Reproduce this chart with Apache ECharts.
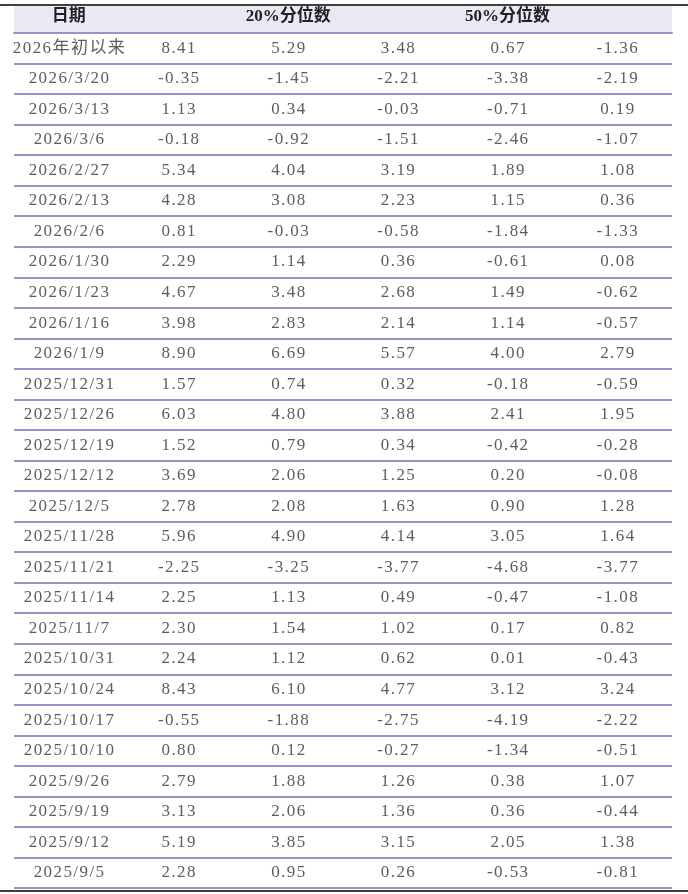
<!DOCTYPE html>
<html lang="zh">
<head>
<meta charset="UTF-8">
<script src="https://cdn.jsdelivr.net/npm/echarts@6/dist/echarts.min.js"></script>
<style>html,body{margin:0;background:#fff}</style>
</head>
<body>
<div id="main" style="width:688px;height:894px;"></div>
<script>
var headers = ['日期', '10%分位数', '20%分位数', '30%分位数', '50%分位数', '沪深300'];
var dates = ['2026年初以来','2026/3/20','2026/3/13','2026/3/6','2026/2/27','2026/2/13','2026/2/6','2026/1/30','2026/1/23','2026/1/16','2026/1/9','2025/12/31','2025/12/26','2025/12/19','2025/12/12','2025/12/5','2025/11/28','2025/11/21','2025/11/14','2025/11/7','2025/10/31','2025/10/24','2025/10/17','2025/10/10','2025/9/26','2025/9/19','2025/9/12','2025/9/5'];
var p10 = [8.41,-0.35,1.13,-0.18,5.34,4.28,0.81,2.29,4.67,3.98,8.90,1.57,6.03,1.52,3.69,2.78,5.96,-2.25,2.25,2.30,2.24,8.43,-0.55,0.80,2.79,3.13,5.19,2.28];
var p20 = [5.29,-1.45,0.34,-0.92,4.04,3.08,-0.03,1.14,3.48,2.83,6.69,0.74,4.80,0.79,2.06,2.08,4.90,-3.25,1.13,1.54,1.12,6.10,-1.88,0.12,1.88,2.06,3.85,0.95];
var p30 = [3.48,-2.21,-0.03,-1.51,3.19,2.23,-0.58,0.36,2.68,2.14,5.57,0.32,3.88,0.34,1.25,1.63,4.14,-3.77,0.49,1.02,0.62,4.77,-2.75,-0.27,1.26,1.36,3.15,0.26];
var p50 = [0.67,-3.38,-0.71,-2.46,1.89,1.15,-1.84,-0.61,1.49,1.14,4.00,-0.18,2.41,-0.42,0.20,0.90,3.05,-4.68,-0.47,0.17,0.01,3.12,-4.19,-1.34,0.38,0.36,2.05,-0.53];
var hs300 = [-1.36,-2.19,0.19,-1.07,1.08,0.36,-1.33,0.08,-0.62,-0.57,2.79,-0.59,1.95,-0.28,-0.08,1.28,1.64,-3.77,-1.08,0.82,-0.43,3.24,-2.22,-0.51,1.07,-0.44,1.38,-0.81];

var cols = [dates, p10, p20, p30, p50, hs300];
var data = [];
cols.forEach(function (col, c) {
    col.forEach(function (v, r) {
        data.push({value: [c, r], text: c === 0 ? v : v.toFixed(2)});
    });
});
var rows = dates.map(function (d, i) { return i; });

var chart = echarts.init(document.getElementById('main'));
chart.setOption({
    animation: false,
    grid: {left: 14, right: 16, top: 33, bottom: 6},
    graphic: [
        {type: 'rect', shape: {x: 14, y: 6, width: 658, height: 27}, style: {fill: '#ebe8f4'}, z: -1},
        {type: 'line', shape: {x1: 0, y1: 5, x2: 688, y2: 5}, style: {stroke: '#000', lineWidth: 1.5}},
        {type: 'line', shape: {x1: 0, y1: 891, x2: 688, y2: 891}, style: {stroke: '#000', lineWidth: 1.5}}
    ],
    xAxis: {
        type: 'category', position: 'top', data: headers,
        axisLine: {show: true, lineStyle: {color: '#9d92c8', width: 2}},
        axisTick: {show: false},
        axisLabel: {margin: 8, color: '#222', fontWeight: 'bold', fontSize: 17,
            fontFamily: 'Liberation Serif, Noto Sans CJK SC'}
    },
    yAxis: {
        type: 'category', inverse: true, data: rows,
        axisLine: {show: false}, axisTick: {show: false}, axisLabel: {show: false},
        splitLine: {show: true, lineStyle: {color: '#9d92c8', width: 2}}
    },
    series: [{
        type: 'scatter', data: data, symbolSize: 0,
        label: {show: true, position: 'inside', color: '#333', fontSize: 17,
            fontFamily: 'Liberation Serif, Noto Sans CJK SC',
            formatter: function (p) { return p.data.text.split('').join('\u200a'); }}
    }]
});
</script>
</body>
</html>
